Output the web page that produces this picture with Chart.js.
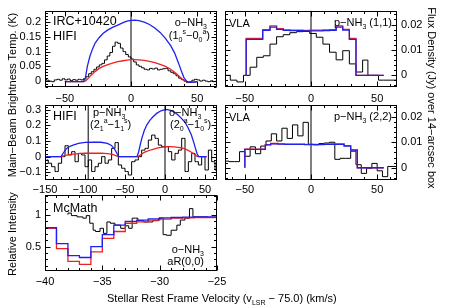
<!DOCTYPE html>
<html lang="en">
<head>
<meta charset="UTF-8">
<title>IRC+10420 NH3 profiles</title>
<script src="https://cdn.jsdelivr.net/npm/chart.js"></script>
<style>
  body { margin: 0; background: #fff; font-family: "Liberation Sans", Arial, sans-serif; }
  #wrap { position: relative; width: 449px; height: 308px; overflow: hidden; }
  #wrap canvas { position: absolute; left: 0; top: 0; }
  .lbl { position: absolute; font-size: 11px; line-height: 12px; color: #000; white-space: nowrap; }
  .lbl sub, .lbl sup { font-size: 7px; line-height: 0; }
  .big { font-size: 12.5px; }
  .r { text-align: right; }
  .rot { width: 220px; text-align: center; }
</style>
</head>
<body>
<div id="wrap">
  <canvas id="c1" width="449" height="308"></canvas>
  <canvas id="c2" width="449" height="308"></canvas>
  <canvas id="c3" width="449" height="308"></canvas>
  <canvas id="c4" width="449" height="308"></canvas>
  <canvas id="c5" width="449" height="308"></canvas>

  <div class="lbl big" style="left:53px; top:15px;">IRC+10420</div>
  <div class="lbl big" style="left:53px; top:30px;">HIFI</div>
  <div class="lbl r" style="right:242px; top:16px;">o−NH<sub>3</sub></div>
  <div class="lbl r" style="right:239px; top:29px;">(1<sub>0</sub><sup>s</sup>−0<sub>0</sub><sup>a</sup>)</div>

  <div class="lbl" style="left:229px; top:17px;">VLA</div>
  <div class="lbl r" style="right:57px; top:16px;">p−NH<sub>3</sub> (1,1)</div>

  <div class="lbl big" style="left:53px; top:110px;">HIFI</div>
  <div class="lbl" style="left:93px; top:106px;">p−NH<sub>3</sub></div>
  <div class="lbl" style="left:90px; top:118px;">(2<sub>1</sub><sup>a</sup>−1<sub>1</sub><sup>s</sup>)</div>
  <div class="lbl" style="left:169px; top:106px;">o−NH<sub>3</sub></div>
  <div class="lbl" style="left:170px; top:118px;">(2<sub>0</sub><sup>a</sup>−1<sub>0</sub><sup>s</sup>)</div>

  <div class="lbl" style="left:229px; top:111px;">VLA</div>
  <div class="lbl r" style="right:57px; top:110px;">p−NH<sub>3</sub> (2,2)</div>

  <div class="lbl big" style="left:53px; top:202px;">McMath</div>
  <div class="lbl r" style="right:245px; top:243px;">o−NH<sub>3</sub></div>
  <div class="lbl r" style="right:245px; top:255px;">aR(0,0)</div>

  <div class="lbl rot" style="left:-98px; top:89px; transform:rotate(-90deg);">Main−Beam Brightness Temp. (K)</div>
  <div class="lbl rot" style="left:-98px; top:228px; transform:rotate(-90deg);">Relative Intensity</div>
  <div class="lbl rot" style="left:322px; top:92px; transform:rotate(90deg);">Flux Density (Jy) over 14−arcsec box</div>
  <div class="lbl" style="left:107px; top:292px;">Stellar Rest Frame Velocity (v<sub>LSR</sub> − 75.0) (km/s)</div>
</div>

<script>
// ---- top left: HIFI o-NH3 (1_0-0_0) ----
const hifi1Vel = [-65,-63,-61,-59,-57,-55,-53,-51,-49,-47,-45,-43,-41,-39,-37,-35,-33,-31,-29,-27,-25,-23,-21,-19,-17,-15,-13,-11,-9,-7,-5,-3,-1,1,3,5,7,9,11,13,15,17,19,21,23,25,27,29,31,33,35,37,39,41,43,45,47,49,51,53,55,57,59,61,63,65];
const hifi1Obs = [0.008,0.003,0.0,-0.002,0.004,0.006,0.003,0.008,0.004,0.007,0.002,0.005,0.003,0.006,0.004,0.008,0.015,0.025,0.032,0.04,0.048,0.055,0.06,0.072,0.085,0.097,0.118,0.132,0.128,0.112,0.1,0.09,0.082,0.075,0.065,0.055,0.05,0.045,0.04,0.038,0.043,0.041,0.044,0.038,0.04,0.042,0.043,0.035,0.03,0.025,0.018,0.01,0.005,0.0,-0.005,-0.002,0.003,0.006,0.004,0.0,0.003,0.0,-0.002,0.001,-0.002,0.0];
const hifi1ModelVel = [-50,-36,-34.5,-33,-31,-29,-27,-24,-21,-18,-14,-10,-6,-3,0,3,6,10,14,18,22,26,30,33,36,38,40,42,44,48,50];
const hifi1Blue = [-0.002,-0.002,0.01,0.05,0.085,0.11,0.13,0.148,0.162,0.172,0.182,0.19,0.198,0.203,0.206,0.207,0.205,0.2,0.192,0.18,0.165,0.145,0.12,0.095,0.06,0.035,0.012,0.0,-0.004,-0.003,-0.002];
const hifi1Red = [-0.002,-0.002,0.0,0.006,0.016,0.025,0.033,0.043,0.05,0.055,0.061,0.066,0.069,0.071,0.073,0.073,0.072,0.07,0.067,0.063,0.057,0.05,0.04,0.03,0.018,0.01,0.002,-0.002,-0.004,-0.003,-0.002];

// ---- top right: VLA p-NH3 (1,1), channel left edges ----
const vla1Edges = [-66,-61,-56,-51,-46,-41,-36,-31,-26,-21,-16,-11,-6,-1,4,9,14,19,24,29,34,39,43,51,55,66];
const vla1Obs = [0.0017,0.0,-0.0019,-0.0026,0.0,0.0032,0.0071,0.0077,0.0123,0.0152,0.016,0.0168,0.0172,0.0173,0.0165,0.015,0.0123,0.0091,0.0061,0.0097,0.0045,0.0013,0.006,0.0,-0.0019,-0.0019];
const vla1ModelEdges = [-49,-36.5,-31,-26,-21,-16,-11,-6,-1,4,9,14,19,24,29,34,39,55];
const vla1Blue = [0,0.0142,0.0177,0.019,0.0181,0.0177,0.0176,0.0176,0.0175,0.0175,0.0175,0.0176,0.0177,0.019,0.0178,0.0142,0,0];
const vla1Red = [0,0.0145,0.018,0.0195,0.0184,0.0179,0.0178,0.0178,0.0177,0.0178,0.0178,0.0179,0.018,0.0195,0.0181,0.0145,0,0];

// ---- middle left: HIFI p-NH3 (2_1-1_1) and o-NH3 (2_0-1_0) ----
const hifi2Vel = [-148,-143.8,-139.6,-135.4,-131.3,-127.1,-122.9,-118.8,-114.6,-110.4,-106.3,-102.1,-97.9,-93.8,-89.6,-85.4,-81.3,-77.1,-72.9,-68.8,-64.6,-60.4,-56.3,-52.1,-47.9,-43.8,-39.6,-35.4,-31.3,-27.1,-22.9,-18.8,-14.6,-10.4,-6.3,-2.1,2.1,6.3,10.4,14.6,18.8,22.9,27.1,31.3,35.4,39.6,43.8,47.9,52.1,56.3,60.4,64.6];
const hifi2Obs = [-0.021,-0.042,-0.064,-0.095,-0.042,0.0,0.07,0.011,0.032,-0.032,0.021,0.011,-0.064,-0.021,-0.095,-0.064,-0.042,0.0,-0.042,-0.021,0.053,0.09,-0.053,-0.074,-0.095,-0.117,-0.032,-0.021,0.0,0.042,0.053,0.106,0.138,0.117,0.074,0.064,0.064,0.032,-0.021,0.021,0.042,0.117,-0.095,-0.032,0.021,-0.032,-0.053,0.0,-0.085,0.042,-0.032,-0.085];
const hifi2ModelVel = [-150,-130,-127,-123,-118,-114,-108,-100,-90,-80,-72,-67,-63,-60,-58,-35,-33,-31,-29,-26,-23,-19,-15,-10,-5,0,3,7,12,16,20,25,29,33,36,38,40,42,52];
const hifi2Blue = [0,0,0.025,0.053,0.068,0.076,0.085,0.091,0.093,0.092,0.085,0.072,0.048,0.02,0,0,0.03,0.075,0.117,0.165,0.2,0.232,0.255,0.278,0.293,0.3,0.301,0.296,0.283,0.268,0.248,0.22,0.183,0.138,0.09,0.055,0.02,0,0];
const hifi2Red = [0,0,0.005,0.01,0.014,0.016,0.019,0.022,0.023,0.022,0.02,0.016,0.01,0.004,0,0,0.003,0.01,0.017,0.027,0.034,0.041,0.047,0.054,0.059,0.063,0.064,0.064,0.062,0.06,0.057,0.05,0.04,0.028,0.018,0.01,0.003,0,0];
const hifi2Lines = [-96, 0];

// ---- middle right: VLA p-NH3 (2,2), channel left edges ----
const vla2Edges = [-66,-62,-58,-54,-50,-46,-42,-38,-34,-30,-26,-22,-18,-14,-10,-6,-2,2,6,10,14,18,22,26,30,34,38,42,46,50,54,58,62,66];
const vla2Obs = [0.0026,0.0026,0.0024,0.0024,0.0063,0.0045,0.0082,0.0055,0.0085,0.0105,0.0133,0.0105,0.0155,0.0115,0.0168,0.0125,0.0178,0.0092,0.009,0.0095,0.0097,0.01,0.0033,0.0037,0.0037,0.0065,0.0012,-0.0022,-0.0002,0.0017,-0.0012,-0.0035,0.0005,0.0005];
const vla2ModelEdges = [-50,-34.5,-30.5,-25,-20,-15,-10,-5,0,5,10,15,20,25,30,35,40,55];
const vla2Blue = [0,0.0072,0.009,0.0094,0.0093,0.0092,0.0092,0.0092,0.0091,0.0091,0.0091,0.0092,0.0092,0.0092,0.0085,0.0069,0,0];
const vla2Red = [0,0.0073,0.0091,0.0095,0.0094,0.0093,0.0093,0.0093,0.0092,0.0092,0.0092,0.0093,0.0094,0.0094,0.0087,0.007,0,0];

// ---- bottom: McMath o-NH3 aR(0,0), channel left edges ----
const mcmEdges = [-38.0,-37.7,-37.2,-36.7,-36.4,-36.1,-35.8,-35.6,-35.2,-34.9,-34.6,-34.3,-33.9,-33.4,-33.0,-32.7,-32.4,-32.1,-31.9,-31.4,-31.0,-30.6,-30.1,-29.7,-29.4,-29.0,-28.5,-28.2,-27.8,-27.4,-27.1,-26.5,-25.8];
const mcmObs = [1.005,1.03,0.99,0.97,0.95,0.99,0.87,0.76,0.74,0.79,0.71,0.89,0.87,0.84,0.79,0.83,0.79,0.95,0.95,0.91,0.89,0.89,0.91,0.95,0.69,0.68,0.76,0.84,0.92,0.95,1.1,0.97,0.97];
const mcmModelEdges = [-40,-39,-38,-37,-36,-35,-34,-33,-32,-31,-30,-29,-28,-27,-26,-25];
const mcmBlue = [0.95,0.80,0.55,0.36,0.33,0.50,0.69,0.84,0.90,0.92,0.94,0.955,0.96,0.965,0.97,0.97];
const mcmRed = [0.95,0.79,0.47,0.27,0.22,0.42,0.63,0.74,0.87,0.89,0.92,0.935,0.95,0.955,0.96,0.96];

const W = 449, H = 308;
const BLUE = '#2020f0', RED = '#f02020';
const FONT = { family: '"Liberation Sans", Arial, sans-serif', size: 11 };

function pts(xs, ys) {
  return xs.map((x, i) => ({ x: x, y: ys[i] }));
}

function fmt(v) {
  return String(Math.round(v * 10000) / 10000).replace('-', '\u2212');
}

// frame and inward ticks on all four sides, IDL style
const boxTicks = {
  id: 'boxTicks',
  afterDatasetsDraw(chart, args, o) {
    const { ctx, chartArea: a } = chart;
    const xs = chart.scales.x, ys = chart.scales.y;
    const L = Math.round(a.left) + 0.5, R = Math.round(a.right) - 0.5;
    const T = Math.round(a.top) + 0.5, B = Math.round(a.bottom) - 0.5;
    ctx.save();
    ctx.strokeStyle = '#000';
    ctx.lineWidth = 1;
    ctx.strokeRect(L, T, R - L, B - T);
    ctx.beginPath();
    let k0 = Math.ceil(xs.min / o.xMinor - 1e-6), k1 = Math.floor(xs.max / o.xMinor + 1e-6);
    for (let k = k0; k <= k1; k++) {
      const v = k * o.xMinor;
      const r = v / o.xMajor;
      const len = Math.abs(r - Math.round(r)) < 1e-6 ? 5 : 2.5;
      const p = Math.round(xs.getPixelForValue(v)) + 0.5;
      ctx.moveTo(p, B); ctx.lineTo(p, B - len);
      ctx.moveTo(p, T); ctx.lineTo(p, T + len);
    }
    k0 = Math.ceil(ys.min / o.yMinor - 1e-6); k1 = Math.floor(ys.max / o.yMinor + 1e-6);
    for (let k = k0; k <= k1; k++) {
      const v = k * o.yMinor;
      const r = v / o.yMajor;
      const len = Math.abs(r - Math.round(r)) < 1e-6 ? 5 : 2.5;
      const p = Math.round(ys.getPixelForValue(v)) + 0.5;
      ctx.moveTo(L, p); ctx.lineTo(L + len, p);
      ctx.moveTo(R, p); ctx.lineTo(R - len, p);
    }
    ctx.stroke();
    ctx.restore();
  }
};

function line(data, color, opts) {
  return Object.assign({
    data: data,
    borderColor: color,
    borderWidth: 1,
    pointRadius: 0,
    fill: false,
    tension: 0
  }, opts || {});
}

function vline(x, lo, hi) {
  return line([{ x: x, y: lo }, { x: x, y: hi }], '#000');
}

function makePanel(id, p) {
  const yRight = p.yPos === 'right';
  const yW = yRight ? 40 : p.box.l;
  const xH = 16;
  new Chart(document.getElementById(id), {
    type: 'line',
    data: { datasets: p.datasets },
    plugins: [boxTicks],
    options: {
      responsive: false,
      animation: false,
      devicePixelRatio: 1,
      events: [],
      layout: {
        padding: {
          left: yRight ? p.box.l : 0,
          right: yRight ? W - p.box.r - yW : W - p.box.r,
          top: p.box.t,
          bottom: H - p.box.b - xH
        }
      },
      plugins: {
        legend: { display: false },
        tooltip: { enabled: false },
        boxTicks: p.ticks
      },
      scales: {
        x: {
          type: 'linear',
          min: p.x[0], max: p.x[1],
          grid: { display: false, drawTicks: false },
          border: { display: false },
          ticks: {
            stepSize: p.x[2], includeBounds: false, autoSkip: false, maxRotation: 0,
            padding: p.xPad, color: '#000', font: FONT, callback: fmt
          },
          afterFit: s => { s.height = xH; }
        },
        y: {
          type: 'linear',
          position: yRight ? 'right' : 'left',
          min: p.y[0], max: p.y[1],
          grid: { display: false, drawTicks: false },
          border: { display: false },
          ticks: {
            stepSize: p.y[2], includeBounds: false, autoSkip: false,
            padding: 4, color: '#000', font: FONT, callback: fmt
          },
          afterFit: s => { s.width = yW; }
        }
      }
    }
  });
}

// panel 1
makePanel('c1', {
  box: { l: 45, t: 9, r: 217, b: 87 },
  x: [-65, 65, 50], y: [-0.02, 0.239, 0.05], xPad: 5,
  ticks: { xMajor: 50, xMinor: 10, yMajor: 0.05, yMinor: 0.01 },
  datasets: [
    line(pts(hifi1ModelVel, hifi1Blue), BLUE, { borderWidth: 1.3 }),
    line(pts(hifi1ModelVel, hifi1Red), RED, { borderWidth: 1.3 }),
    line(pts(hifi1Vel, hifi1Obs), '#000', { stepped: 'middle' }),
    vline(0, -0.02, 0.239)
  ]
});

// panel 2
makePanel('c2', {
  box: { l: 225, t: 9, r: 397, b: 87 }, yPos: 'right',
  x: [-65, 65, 50], y: [-0.0046, 0.0255, 0.01], xPad: 5,
  ticks: { xMajor: 50, xMinor: 10, yMajor: 0.01, yMinor: 0.002 },
  datasets: [
    line(pts(vla1ModelEdges, vla1Blue), BLUE, { stepped: 'after', borderWidth: 1.3 }),
    line(pts(vla1ModelEdges, vla1Red), RED, { stepped: 'after', borderWidth: 1.3 }),
    line(pts(vla1Edges, vla1Obs), '#000', { stepped: 'after' }),
    vline(0, -0.0046, 0.0255)
  ]
});

// panel 3
makePanel('c3', {
  box: { l: 45, t: 105, r: 217, b: 180 },
  x: [-150, 65, 50], y: [-0.149, 0.33, 0.1], xPad: 3,
  ticks: { xMajor: 50, xMinor: 10, yMajor: 0.1, yMinor: 0.02 },
  datasets: [
    line(pts(hifi2ModelVel, hifi2Blue), BLUE, { borderWidth: 1.3 }),
    line(pts(hifi2ModelVel, hifi2Red), RED, { borderWidth: 1.3 }),
    line(pts(hifi2Vel, hifi2Obs), '#000', { stepped: 'middle' }),
    vline(hifi2Lines[0], -0.149, 0.33),
    vline(hifi2Lines[1], -0.149, 0.33)
  ]
});

// panel 4
makePanel('c4', {
  box: { l: 225, t: 105, r: 397, b: 180 }, yPos: 'right',
  x: [-65, 65, 50], y: [-0.0048, 0.0246, 0.01], xPad: 3,
  ticks: { xMajor: 50, xMinor: 10, yMajor: 0.01, yMinor: 0.002 },
  datasets: [
    line(pts(vla2ModelEdges, vla2Blue), BLUE, { stepped: 'after', borderWidth: 1.3 }),
    line(pts(vla2ModelEdges, vla2Red), RED, { stepped: 'after', borderWidth: 1.3 }),
    line(pts(vla2Edges, vla2Obs), '#000', { stepped: 'after' }),
    vline(0, -0.0048, 0.0246)
  ]
});

// panel 5
makePanel('c5', {
  box: { l: 45, t: 195, r: 217, b: 271 },
  x: [-40, -25, 5], y: [0.117, 1.315, 0.5], xPad: 4,
  ticks: { xMajor: 5, xMinor: 1, yMajor: 0.5, yMinor: 0.1 },
  datasets: [
    line(pts(mcmModelEdges, mcmBlue), BLUE, { stepped: 'after', borderWidth: 1.3 }),
    line(pts(mcmModelEdges, mcmRed), RED, { stepped: 'after', borderWidth: 1.3 }),
    line(pts(mcmEdges, mcmObs), '#000', { stepped: 'after' })
  ]
});
</script>
</body>
</html>
